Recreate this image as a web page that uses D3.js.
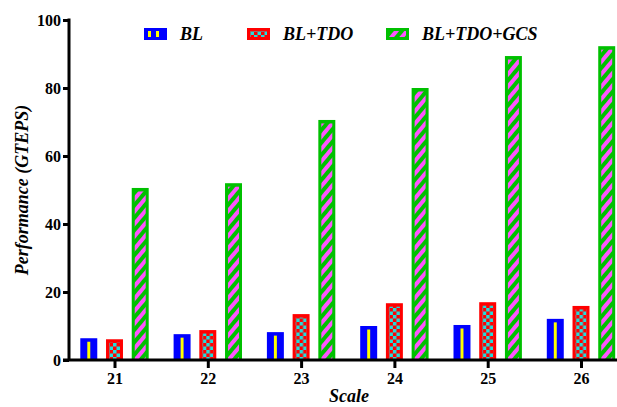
<!DOCTYPE html>
<html>
<head>
<meta charset="utf-8">
<script src="https://cdn.jsdelivr.net/npm/d3@7"></script>
<style>
  body { margin: 0; background: #fff; }
  svg { display: block; }
  text { font-family: "Liberation Serif", "Times New Roman", serif; font-weight: bold; fill: #000; }
</style>
</head>
<body>
<div id="chart"></div>
<script>
(function () {
// data
var scales = ["21", "22", "23", "24", "25", "26"];
var seriesNames = ["BL", "BL+TDO", "BL+TDO+GCS"];
var blValues = [6.4, 7.6, 8.2, 10.0, 10.3, 12.1];
var tdoValues = [6.1, 8.8, 13.5, 16.7, 17.0, 15.9];
var gcsValues = [50.6, 52.0, 70.6, 80.0, 89.4, 92.3];
var yTicks = [0, 20, 40, 60, 80, 100];

var width = 617, height = 407;

var svg = d3.select("#chart").append("svg")
    .attr("width", width)
    .attr("height", height);

var defs = svg.append("defs");

// BL: yellow centre stripe (bars), yellow dashes (legend)
var pBL = defs.append("pattern").attr("id", "pBL")
    .attr("patternUnits", "userSpaceOnUse").attr("width", 4).attr("height", 6);
pBL.append("rect").attr("width", 4).attr("height", 6).attr("fill", "#ffff00");
var pBLleg = defs.append("pattern").attr("id", "pBLleg")
    .attr("patternUnits", "userSpaceOnUse").attr("width", 8).attr("height", 12)
    .attr("x", 148);
pBLleg.append("rect").attr("width", 8).attr("height", 12).attr("fill", "#0000ff");
pBLleg.append("rect").attr("width", 3).attr("height", 12).attr("fill", "#ffff00");

// BL+TDO: red / cyan checker
var pTDO = defs.append("pattern").attr("id", "pTDO")
    .attr("patternUnits", "userSpaceOnUse").attr("width", 7).attr("height", 7);
pTDO.append("rect").attr("width", 7).attr("height", 7).attr("fill", "#ff0000");
pTDO.append("rect").attr("width", 3.5).attr("height", 3.5).attr("fill", "#22dddd");
pTDO.append("rect").attr("x", 3.5).attr("y", 3.5).attr("width", 3.5).attr("height", 3.5).attr("fill", "#22dddd");

// BL+TDO+GCS: green with magenta diagonal stripes
var pGCS = defs.append("pattern").attr("id", "pGCS")
    .attr("patternUnits", "userSpaceOnUse").attr("width", 8).attr("height", 8)
    .attr("patternTransform", "rotate(40)");
pGCS.append("rect").attr("width", 8).attr("height", 8).attr("fill", "#00c000");
pGCS.append("rect").attr("width", 4).attr("height", 8).attr("fill", "#ff55ff");

var series = [
  { name: seriesNames[0], values: blValues, color: "#0000ff", fill: "url(#pBL)", legFill: "url(#pBLleg)", inset: 7 },
  { name: seriesNames[1], values: tdoValues, color: "#ff0000", fill: "url(#pTDO)", legFill: "url(#pTDO)", inset: 3 },
  { name: seriesNames[2], values: gcsValues, color: "#00c000", fill: "url(#pGCS)", legFill: "url(#pGCS)", inset: 3 }
];

var x = d3.scalePoint().domain(scales).range([114.5, 581]);
var xs = d3.scaleBand().domain(seriesNames).range([-34.2, 34.2]).paddingInner(0.34);
var y = d3.scaleLinear().domain([0, 100]).range([360, 20]);

var bw = xs.bandwidth();

// bars
series.forEach(function (s) {
  var g = svg.append("g").attr("class", "series");
  var groups = g.selectAll("g").data(s.values).enter().append("g")
      .attr("transform", function (d, i) { return "translate(" + (x(scales[i]) + xs(s.name)) + ",0)"; });
  groups.append("rect")
      .attr("x", 0)
      .attr("y", function (d) { return y(d); })
      .attr("width", bw)
      .attr("height", function (d) { return y(0) - y(d); })
      .attr("fill", s.color);
  groups.append("rect")
      .attr("x", s.inset)
      .attr("y", function (d) { return y(d) + 3.5; })
      .attr("width", bw - 2 * s.inset)
      .attr("height", function (d) { return Math.max(0, y(0) - y(d) - 3.5); })
      .attr("fill", s.fill);
});

// y axis
var yAxis = svg.append("g")
    .attr("transform", "translate(69,0)")
    .call(d3.axisLeft(y).tickValues(yTicks).tickSize(6).tickSizeOuter(0).tickPadding(2));
yAxis.select(".domain").remove();
yAxis.selectAll(".tick line").attr("stroke", "#000").attr("stroke-width", 3);
yAxis.selectAll(".tick text").style("font-size", "16px").style("font-family", "Liberation Serif").style("font-weight", "bold");
svg.append("line").attr("x1", 69).attr("x2", 69).attr("y1", y(100) - 1.5).attr("y2", y(0))
    .attr("stroke", "#000").attr("stroke-width", 3);

// x axis
var xAxis = svg.append("g")
    .attr("transform", "translate(0," + y(0) + ")")
    .call(d3.axisBottom(x).tickSize(8).tickSizeOuter(0).tickPadding(5));
xAxis.select(".domain").remove();
xAxis.selectAll(".tick line").attr("stroke", "#000").attr("stroke-width", 3);
xAxis.selectAll(".tick text").style("font-size", "16px").style("font-family", "Liberation Serif").style("font-weight", "bold");
svg.append("line").attr("x1", 63).attr("x2", 617).attr("y1", y(0)).attr("y2", y(0))
    .attr("stroke", "#000").attr("stroke-width", 3);

// axis titles
svg.append("text")
    .attr("transform", "translate(28," + 190 + ") rotate(-90)")
    .attr("text-anchor", "middle")
    .style("font-size", "18px").style("font-style", "italic")
    .text("Performance (GTEPS)");
svg.append("text")
    .attr("x", 349).attr("y", 402)
    .attr("text-anchor", "middle")
    .style("font-size", "18px").style("font-style", "italic")
    .text("Scale");

// legend
var legendX = [144, 247, 386];
var legend = svg.selectAll(".legend").data(series).enter().append("g")
    .attr("class", "legend")
    .attr("transform", function (d, i) { return "translate(" + legendX[i] + ",28)"; });
legend.append("rect").attr("width", 23).attr("height", 12).attr("fill", function (d) { return d.color; });
legend.append("rect").attr("x", 3).attr("y", 3).attr("width", 17).attr("height", 6)
    .attr("fill", function (d) { return d.legFill; });
legend.append("text")
    .attr("x", 36).attr("y", 12)
    .style("font-size", "18px").style("font-style", "italic")
    .text(function (d) { return d.name; });
})();
</script>
</body>
</html>
